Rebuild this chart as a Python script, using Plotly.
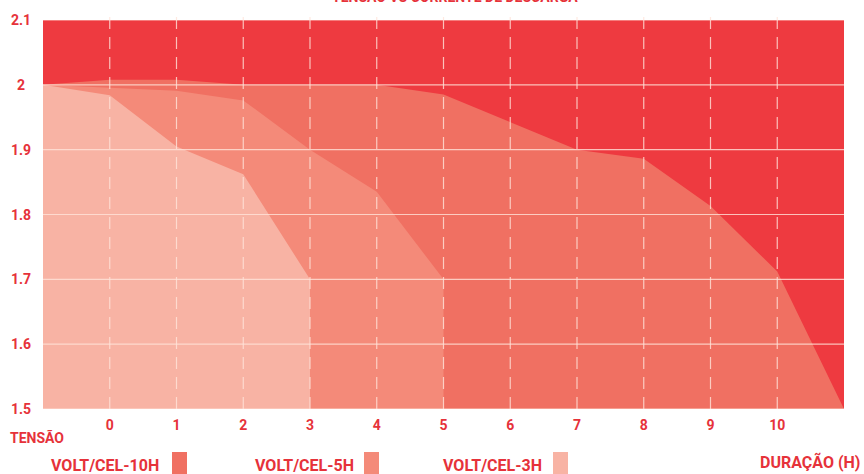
import plotly.graph_objects as go

# --- data ---
hours_10h = [-1, 0, 1, 2, 3, 4, 5, 6, 7, 8, 9, 10, 11]
volt_10h = [2.0, 2.008, 2.008, 2.0, 2.0, 2.0, 1.985, 1.942, 1.9, 1.886, 1.813, 1.712, 1.5]

hours_5h = [-1, 0, 1, 2, 3, 4, 5]
volt_5h = [2.0, 1.996, 1.991, 1.976, 1.9, 1.835, 1.70]

hours_3h = [-1, 0, 1, 2, 3]
volt_3h = [2.0, 1.984, 1.905, 1.862, 1.70]

x_ticks = [0, 1, 2, 3, 4, 5, 6, 7, 8, 9, 10]
y_ticks = [1.5, 1.6, 1.7, 1.8, 1.9, 2.0, 2.1]
y_tick_labels = ["1.5", "1.6", "1.7", "1.8", "1.9", "2", "2.1"]

series_names = ["VOLT/CEL-10H", "VOLT/CEL-5H", "VOLT/CEL-3H"]
series_colors = ["#F07062", "#F48A79", "#F8B3A4"]

BG_RED = "#EE3A40"
TEXT_RED = "#E6323A"
GRID = "rgba(255,228,218,0.8)"
FONT = "Roboto, 'Open Sans', sans-serif"

W, H = 864, 474
M = dict(l=43, r=20, t=20, b=65)
plot_w = W - M["l"] - M["r"]
plot_h = H - M["t"] - M["b"]


def px_x(p):
    # page pixel -> paper x
    return (p - M["l"]) / plot_w


def px_y(p):
    # page pixel -> paper y
    return (H - M["b"] - p) / plot_h


def red_font(size=14):
    return dict(family=FONT, size=size, color=TEXT_RED, weight="bold")


fig = go.Figure()
for xs, ys, name, col in zip(
    [hours_10h, hours_5h, hours_3h],
    [volt_10h, volt_5h, volt_3h],
    series_names,
    series_colors,
):
    fig.add_trace(go.Scatter(
        x=xs, y=ys, name=name, mode="lines",
        line=dict(width=0, color=col),
        fill="tozeroy", fillcolor=col,
        hoverinfo="x+y+name",
    ))

shapes = []
# gridlines drawn over the areas, as in the reference
for yv in y_ticks:
    shapes.append(dict(type="line", xref="paper", yref="y", x0=0, x1=1, y0=yv, y1=yv,
                       line=dict(color=GRID, width=1.2), layer="above"))
for xv in x_ticks:
    shapes.append(dict(type="line", xref="x", yref="paper", x0=xv, x1=xv, y0=0, y1=1.015,
                       line=dict(color=GRID, width=1.2, dash="12px,8px"), layer="above"))

annotations = []
for yv, lab in zip(y_ticks, y_tick_labels):
    annotations.append(dict(text=lab, xref="paper", yref="y", x=px_x(21), y=yv,
                            xanchor="center", yanchor="middle", showarrow=False,
                            font=red_font(14)))

annotations += [
    # title sits mostly above the window, as in the reference
    dict(text="TENSÃO VS CORRENTE DE DESCARGA", xref="paper", yref="paper",
         x=px_x(455), y=px_y(7), xanchor="center", yanchor="bottom", showarrow=False,
         font=red_font(14)),
    dict(text="TENSÃO", xref="paper", yref="paper", x=px_x(8), y=px_y(437),
         xanchor="left", yanchor="middle", showarrow=False, font=red_font(14)),
    dict(text="DURAÇÃO (H)", xref="paper", yref="paper", x=px_x(862), y=px_y(462),
         xanchor="right", yanchor="middle", showarrow=False, font=red_font(16)),
]

# legend: label followed by a colour block
legend_text_end = [161, 356, 544]
legend_box_left = [172, 364, 553]
for name, col, tx, bx in zip(series_names, series_colors, legend_text_end, legend_box_left):
    annotations.append(dict(text=name, xref="paper", yref="paper", x=px_x(tx), y=px_y(465),
                            xanchor="right", yanchor="middle", showarrow=False,
                            font=red_font(16)))
    shapes.append(dict(type="rect", xref="paper", yref="paper",
                       x0=px_x(bx), x1=px_x(bx + 15), y0=px_y(452), y1=px_y(478),
                       fillcolor=col, line=dict(width=0), layer="above"))

fig.update_layout(
    width=W, height=H,
    margin=M,
    paper_bgcolor="white",
    plot_bgcolor=BG_RED,
    showlegend=False,
    shapes=shapes,
    annotations=annotations,
    xaxis=dict(range=[-1, 11], tickvals=x_ticks, showgrid=False, zeroline=False,
               showline=False, ticks="", ticklabelstandoff=6, tickfont=red_font(14)),
    yaxis=dict(range=[1.5, 2.1], tickvals=y_ticks, showticklabels=False, showgrid=False,
               zeroline=False, showline=False, ticks=""),
)

# drop the default page margin so the figure fills the window exactly
fig.write_html("out.html", config={"displayModeBar": False},
               post_script="document.body.style.margin='0';")
